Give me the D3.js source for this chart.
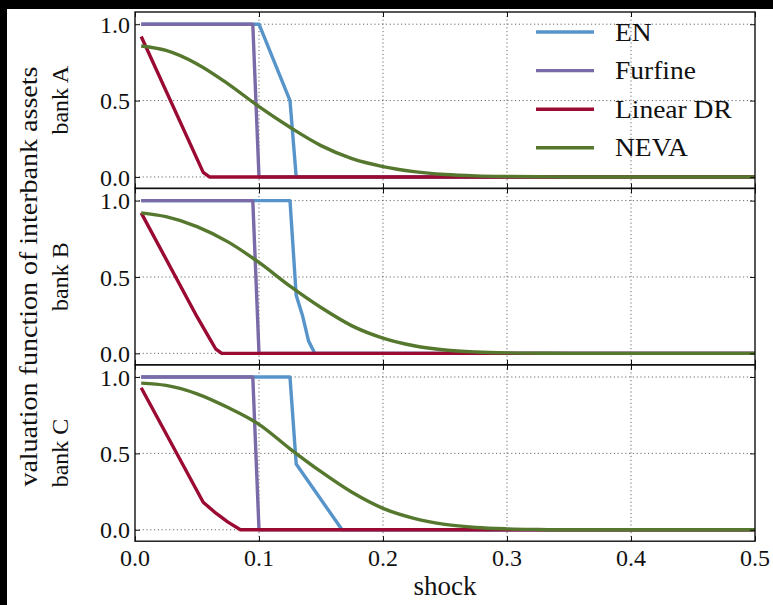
<!DOCTYPE html>
<html>
<head>
<meta charset="utf-8">
<script src="https://cdn.jsdelivr.net/npm/d3@7"></script>
<style>
  html, body { margin: 0; padding: 0; background: #fff; }
  svg { display: block; }
  text { font-family: "Liberation Serif", "DejaVu Serif", serif; fill: #111; }
</style>
</head>
<body>
<div class="viz"></div>
<script>
// Data
const panelNames = ["bank A", "bank B", "bank C"];
const seriesNames = ["EN", "Furfine", "Linear DR", "NEVA"];
const xTicks = [0.0, 0.1, 0.2, 0.3, 0.4, 0.5];
const yTicks = [0.0, 0.5, 1.0];

// bank A
const enA = [[0.005, 1], [0.1, 1], [0.125, 0.5], [0.13, 0], [0.5, 0]];
const furfineA = [[0.005, 1], [0.095, 1], [0.1, 0], [0.5, 0]];
const linearA = [[0.005, 0.92], [0.055, 0.03], [0.06, 0], [0.5, 0]];
const nevaA = [[0.005, 0.857], [0.025, 0.828], [0.05, 0.74], [0.075, 0.61], [0.1, 0.46],
  [0.125, 0.325], [0.15, 0.205], [0.175, 0.12], [0.2, 0.068], [0.225, 0.035],
  [0.25, 0.016], [0.275, 0.007], [0.3, 0.003], [0.325, 0.001], [0.35, 0], [0.5, 0]];

// bank B
const enB = [[0.005, 1], [0.125, 1], [0.13, 0.38], [0.135, 0.25], [0.14, 0.08], [0.145, 0], [0.5, 0]];
const furfineB = [[0.005, 1], [0.095, 1], [0.1, 0], [0.5, 0]];
const linearB = [[0.005, 0.92], [0.05, 0.24], [0.06, 0.1], [0.065, 0.03], [0.07, 0], [0.5, 0]];
const nevaB = [[0.005, 0.92], [0.025, 0.895], [0.05, 0.83], [0.075, 0.73], [0.1, 0.595],
  [0.125, 0.44], [0.15, 0.3], [0.175, 0.18], [0.2, 0.1], [0.225, 0.05],
  [0.25, 0.022], [0.275, 0.009], [0.3, 0.003], [0.325, 0.001], [0.35, 0], [0.5, 0]];

// bank C
const enC = [[0.005, 1], [0.125, 1], [0.13, 0.43], [0.167, 0], [0.5, 0]];
const furfineC = [[0.005, 1], [0.095, 1], [0.1, 0], [0.5, 0]];
const linearC = [[0.005, 0.93], [0.055, 0.18], [0.065, 0.11], [0.075, 0.05], [0.085, 0], [0.5, 0]];
const nevaC = [[0.005, 0.96], [0.025, 0.945], [0.05, 0.89], [0.075, 0.8], [0.1, 0.69],
  [0.125, 0.53], [0.15, 0.38], [0.175, 0.245], [0.2, 0.14], [0.225, 0.075],
  [0.25, 0.035], [0.275, 0.015], [0.3, 0.006], [0.325, 0.002], [0.35, 0], [0.5, 0]];

const panelData = [
  [enA, furfineA, linearA, nevaA],
  [enB, furfineB, linearB, nevaB],
  [enC, furfineC, linearC, nevaC],
];

const colors = {
  "EN": "#5794c9",
  "Furfine": "#7b6aa8",
  "Linear DR": "#9a0a32",
  "NEVA": "#55782e",
};

// Layout
const totalWidth = 773;
const totalHeight = 605;
const margin = { top: 12, right: 18, left: 135 };
const width = totalWidth - margin.left - margin.right;
const panelHeight = 176.4;

const svg = d3
  .select(".viz")
  .append("svg")
  .attr("width", totalWidth)
  .attr("height", totalHeight);

svg.append("rect").attr("width", totalWidth).attr("height", totalHeight).attr("fill", "#fff");
// dark strips at the top and left edge of the picture
svg.append("rect").attr("x", 0).attr("y", 0).attr("width", totalWidth).attr("height", 9).attr("fill", "#000");
svg.append("rect").attr("x", 0).attr("y", 0).attr("width", 7).attr("height", totalHeight).attr("fill", "#000");

const xScale = d3.scaleLinear().domain([0, 0.5]).range([0, width]);
const yScale = d3.scaleLinear().domain([-0.075, 1.08]).range([panelHeight, 0]);

const line = d3.line().x((d) => xScale(d[0])).y((d) => yScale(d[1]));
const smoothLine = d3.line().x((d) => xScale(d[0])).y((d) => yScale(d[1])).curve(d3.curveMonotoneX);

panelData.forEach((series, p) => {
  const g = svg
    .append("g")
    .attr("transform", `translate(${margin.left},${margin.top + p * panelHeight})`);

  const clipId = `clip${p}`;
  g.append("clipPath").attr("id", clipId)
    .append("rect").attr("width", width).attr("height", panelHeight);

  // grid
  g.selectAll(".vgrid")
    .data(xTicks.slice(1, -1))
    .enter()
    .append("line")
    .attr("x1", (d) => xScale(d))
    .attr("x2", (d) => xScale(d))
    .attr("y1", 0)
    .attr("y2", panelHeight)
    .attr("stroke", "#444")
    .attr("stroke-width", 0.8)
    .attr("stroke-dasharray", "1.2,2.6");

  g.selectAll(".hgrid")
    .data(yTicks)
    .enter()
    .append("line")
    .attr("x1", 0)
    .attr("x2", width)
    .attr("y1", (d) => yScale(d))
    .attr("y2", (d) => yScale(d))
    .attr("stroke", "#444")
    .attr("stroke-width", 0.8)
    .attr("stroke-dasharray", "1.2,2.6");

  // lines
  series.forEach((pts, i) => {
    const name = seriesNames[i];
    g.append("path")
      .datum(pts)
      .attr("clip-path", `url(#${clipId})`)
      .attr("fill", "none")
      .attr("stroke", colors[name])
      .attr("stroke-width", 3.4)
      .attr("stroke-linejoin", "round")
      .attr("d", name === "NEVA" ? smoothLine : line);
  });

  // ticks (inside) on all four spines
  const axes = [
    d3.axisBottom(xScale).tickValues(xTicks).tickSizeInner(-5).tickSizeOuter(0).tickFormat(""),
    d3.axisTop(xScale).tickValues(xTicks).tickSizeInner(-5).tickSizeOuter(0).tickFormat(""),
    d3.axisLeft(yScale).tickValues(yTicks).tickSizeInner(-5).tickSizeOuter(0).tickFormat(d3.format(".1f")),
    d3.axisRight(yScale).tickValues(yTicks).tickSizeInner(-5).tickSizeOuter(0).tickFormat(""),
  ];
  const offsets = [`translate(0,${panelHeight})`, "translate(0,0)", "translate(0,0)", `translate(${width},0)`];
  axes.forEach((ax, k) => {
    const a = g.append("g").attr("transform", offsets[k]).call(ax);
    a.select(".domain").remove();
    a.selectAll("line").attr("stroke", "#111").attr("stroke-width", 1);
    a.selectAll("text").attr("fill", "#111").style("font-size", "24px")
      .style("font-family", "'Liberation Serif', serif");
    if (k === 2) a.selectAll("text").attr("x", -5).attr("dy", "0.34em");
  });

  // frame
  g.append("rect")
    .attr("width", width)
    .attr("height", panelHeight)
    .attr("fill", "none")
    .attr("stroke", "#111")
    .attr("stroke-width", 1.4);

  // panel label
  g.append("text")
    .attr("transform", `translate(-67,${panelHeight / 2}) rotate(-90)`)
    .attr("text-anchor", "middle")
    .style("font-size", "24px")
    .text(panelNames[p]);

  // x tick labels only on the bottom panel
  if (p === panelData.length - 1) {
    g.selectAll(".xlabel")
      .data(xTicks)
      .enter()
      .append("text")
      .attr("x", (d) => xScale(d))
      .attr("y", panelHeight + 25)
      .attr("text-anchor", "middle")
      .style("font-size", "24px")
      .text((d) => d3.format(".1f")(d));

    g.append("text")
      .attr("x", width / 2)
      .attr("y", panelHeight + 54)
      .attr("text-anchor", "middle")
      .style("font-size", "27px")
      .text("shock");
  }
});

// shared y label
svg.append("text")
  .attr("transform", `translate(37,${margin.top + (3 * panelHeight) / 2}) rotate(-90)`)
  .attr("text-anchor", "middle")
  .attr("textLength", 420)
  .attr("lengthAdjust", "spacingAndGlyphs")
  .style("font-size", "26px")
  .text("valuation function of interbank assets");

// legend
const legend = svg
  .append("g")
  .attr("transform", `translate(536, 32)`);

const legendItems = legend
  .selectAll("g")
  .data(seriesNames)
  .enter()
  .append("g")
  .attr("transform", (d, i) => `translate(0, ${i * 38.6})`);

legendItems
  .append("line")
  .attr("x1", 0)
  .attr("x2", 58)
  .attr("stroke", (d) => colors[d])
  .attr("stroke-width", 3.4);

legendItems
  .append("text")
  .attr("transform", "translate(79,0) scale(1.1,1)")
  .attr("dy", "0.34em")
  .style("font-size", "25px")
  .text((d) => d);
</script>
</body>
</html>
